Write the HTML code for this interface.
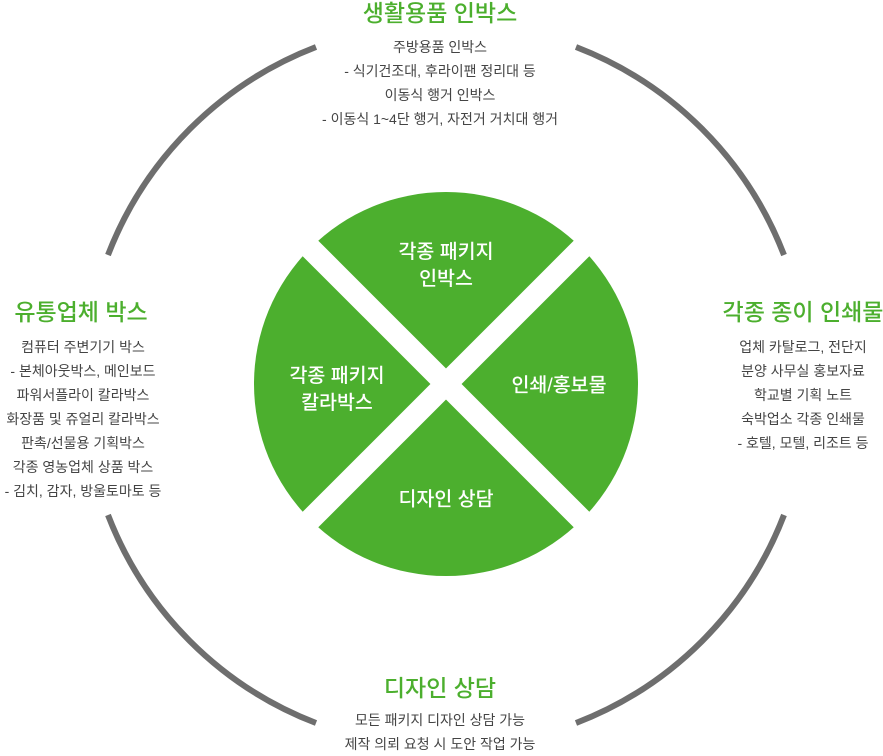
<!DOCTYPE html>
<html><head><meta charset="utf-8">
<style>
html,body{margin:0;padding:0;background:#fff;}
body{width:883px;height:754px;position:relative;overflow:hidden;font-family:"Liberation Sans","Noto Sans CJK KR",sans-serif;}
.t{position:absolute;text-align:center;color:#4caf2e;font-size:23px;font-weight:500;white-space:nowrap;transform:translateX(-50%);line-height:28px;}
.b{position:absolute;text-align:center;color:#444;font-size:14px;line-height:24px;white-space:nowrap;transform:translateX(-50%);}
.w{position:absolute;text-align:center;color:#fff;font-size:19.5px;font-weight:500;line-height:27px;white-space:nowrap;transform:translate(-50%,-50%);}
</style></head><body>
<svg width="883" height="754" style="position:absolute;left:0;top:0">
<g fill="none" stroke="#6e6e6e" stroke-width="6">
<path d="M108 255 A362 362 0 0 1 316 47"/>
<path d="M576 47 A362 362 0 0 1 784 255"/>
<path d="M784 515 A362 362 0 0 1 576 723"/>
<path d="M316 723 A362 362 0 0 1 108 515"/>
</g>
<circle cx="446" cy="384" r="192" fill="#4caf2e"/>
<g stroke="#fff" stroke-width="22">
<line x1="230" y1="168" x2="662" y2="600"/>
<line x1="662" y1="168" x2="230" y2="600"/>
</g>
</svg>
<div class="t" style="left:440px;top:-1px">생활용품 인박스</div>
<div class="b" style="left:440px;top:35px">주방용품 인박스<br>- 식기건조대, 후라이팬 정리대 등<br>이동식 행거 인박스<br>- 이동식 1~4단 행거, 자전거 거치대 행거</div>
<div class="t" style="left:81px;top:298px">유통업체 박스</div>
<div class="b" style="left:83px;top:335px">컴퓨터 주변기기 박스<br>- 본체아웃박스, 메인보드<br>파워서플라이 칼라박스<br>화장품 및 쥬얼리 칼라박스<br>판촉/선물용 기획박스<br>각종 영농업체 상품 박스<br>- 김치, 감자, 방울토마토 등</div>
<div class="t" style="left:803px;top:298px">각종 종이 인쇄물</div>
<div class="b" style="left:803px;top:335px">업체 카탈로그, 전단지<br>분양 사무실 홍보자료<br>학교별 기획 노트<br>숙박업소 각종 인쇄물<br>- 호텔, 모텔, 리조트 등</div>
<div class="t" style="left:440px;top:674px">디자인 상담</div>
<div class="b" style="left:440px;top:708px">모든 패키지 디자인 상담 가능<br>제작 의뢰 요청 시 도안 작업 가능</div>
<div class="w" style="left:446px;top:266px">각종 패키지<br>인박스</div>
<div class="w" style="left:337px;top:390px">각종 패키지<br>칼라박스</div>
<div class="w" style="left:559px;top:386px">인쇄/홍보물</div>
<div class="w" style="left:446px;top:500px">디자인 상담</div>
</body></html>
